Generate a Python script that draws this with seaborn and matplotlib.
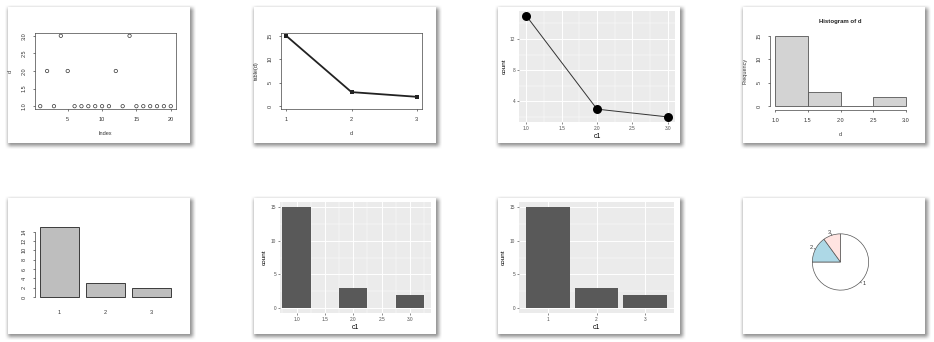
import numpy as np
import matplotlib
matplotlib.use("Agg")
import matplotlib.pyplot as plt
import seaborn as sns

# ---- data -------------------------------------------------------------
d_values = [1, 2, 1, 3, 2, 1, 1, 1, 1, 1, 1, 2, 1, 3, 1, 1, 1, 1, 1, 1]
d_index = list(range(1, len(d_values) + 1))
levels = [1, 2, 3]
level_labels = ["1", "2", "3"]
level_counts = [15, 3, 2]
hist_edges = [1.0, 1.5, 2.0, 2.5, 3.0]
hist_freq = [15, 3, 0, 2]
pie_colors = ["white", "lightblue", "mistyrose"]

plt.rcParams["font.family"] = ["Liberation Sans", "DejaVu Sans"]

W, H = 934, 342
CARD_W, CARD_H = 182, 136
COL_X = [8, 254, 498, 743]
ROW_Y = [7, 198]

fig = plt.figure(figsize=(W / 100, H / 100), dpi=100)

# ---- card backgrounds with soft drop shadows ---------------------------
def box_blur(a, r):
    k = np.ones(2 * r + 1) / (2 * r + 1)
    a = np.apply_along_axis(lambda m: np.convolve(m, k, mode="same"), 0, a)
    a = np.apply_along_axis(lambda m: np.convolve(m, k, mode="same"), 1, a)
    return a

shadow = np.zeros((H, W))
for y in ROW_Y:
    for x in COL_X:
        shadow[y + 1:y + CARD_H + 3, x:x + CARD_W + 3] = 1.0
shadow = box_blur(box_blur(shadow, 2), 1)
canvas = 1.0 - 0.42 * shadow
for y in ROW_Y:
    for x in COL_X:
        canvas[y:y + CARD_H, x:x + CARD_W] = 1.0
bg = fig.add_axes([0, 0, 1, 1])
bg.imshow(np.dstack([canvas] * 3), extent=(0, W, H, 0), aspect="auto",
          interpolation="nearest")
bg.set_axis_off()


def panel(col, row, l, t, r, b):
    cx, cy = COL_X[col], ROW_Y[row]
    return fig.add_axes([(cx + l) / W, 1 - (cy + b) / H, (r - l) / W, (b - t) / H])


TXT = "#333333"
R_BOX = (27, 26, 168, 102)


def r_style(ax, box=True):
    ax.set_facecolor("none")
    for s in ax.spines.values():
        s.set_linewidth(0.5)
        s.set_color("#444444")
        s.set_visible(box)
    ax.tick_params(length=1.6, width=0.5, color="#444444", pad=4.2,
                   labelsize=4, labelcolor=TXT)
    ax.tick_params(axis="y", labelrotation=90)
    for lab in ax.get_yticklabels():
        lab.set_va("center")
    ax.grid(False)


def gg_style(ax, xmaj, xmin, ymaj, ymin):
    ax.set_facecolor("#EBEBEB")
    for s in ax.spines.values():
        s.set_visible(False)
    ax.set_xticks(xmaj)
    ax.set_xticks(xmin, minor=True)
    ax.set_yticks(ymaj)
    ax.set_yticks(ymin, minor=True)
    ax.set_axisbelow(True)
    ax.grid(which="major", color="white", linewidth=0.7)
    ax.grid(which="minor", color="white", linewidth=0.35)
    ax.tick_params(which="major", length=1.6, width=0.4, color="#333333",
                   labelsize=3.4, labelcolor="#4D4D4D", pad=1.2)
    ax.tick_params(which="minor", length=0)


# ---- 1: index plot of d ----------------------------------------------
ax1 = panel(0, 0, *R_BOX)
sns.scatterplot(x=d_index, y=d_values, ax=ax1, marker="o", s=6,
                facecolor="none", edgecolor="#333333", linewidth=0.5)
ax1.set_xlim(0.24, 20.76)
ax1.set_ylim(0.92, 3.08)
ax1.set_xticks([5, 10, 15, 20])
ax1.set_yticks([1.0, 1.5, 2.0, 2.5, 3.0])
ax1.set_yticklabels(["1.0", "1.5", "2.0", "2.5", "3.0"])
ax1.set_xlabel("Index", fontsize=4, color=TXT, labelpad=6.5)
ax1.set_ylabel("d", fontsize=4, color=TXT, labelpad=6.5)
r_style(ax1)

# ---- 2: table(d) as connected points -----------------------------------
ax2 = panel(1, 0, *R_BOX)
sns.lineplot(x=levels, y=level_counts, ax=ax2, color="#222222", linewidth=1.3,
             marker="s", markersize=2.2, markeredgewidth=0)
ax2.set_xlim(0.92, 3.08)
ax2.set_ylim(-0.6, 15.6)
ax2.set_xticks(levels)
ax2.set_yticks([0, 5, 10, 15])
ax2.set_xlabel("d", fontsize=4, color=TXT, labelpad=6.5)
ax2.set_ylabel("table(d)", fontsize=4, color=TXT, labelpad=6.5)
r_style(ax2)

# ---- 3: counts as points and line, grey panel --------------------------
ax3 = panel(2, 0, 21, 3.5, 177, 115)
sns.lineplot(x=levels, y=level_counts, ax=ax3, color="#333333", linewidth=0.7)
sns.scatterplot(x=levels, y=level_counts, ax=ax3, color="black", s=42,
                linewidth=0, zorder=3)
ax3.set_xlim(0.9, 3.1)
ax3.set_ylim(1.35, 15.65)
gg_style(ax3, [1.0, 1.5, 2.0, 2.5, 3.0], [1.25, 1.75, 2.25, 2.75],
         [4, 8, 12], [2, 6, 10, 14])
ax3.set_xticklabels(["1.0", "1.5", "2.0", "2.5", "3.0"])
ax3.set_xlabel("c1", fontsize=5, color="black", labelpad=1.5)
ax3.set_ylabel("count", fontsize=4.6, color="black", labelpad=2.5)

# ---- 4: histogram -------------------------------------------------------
ax4 = panel(3, 0, *R_BOX)
bin_centers = [(a + b) / 2 for a, b in zip(hist_edges[:-1], hist_edges[1:])]
sns.histplot(x=bin_centers, weights=hist_freq, bins=hist_edges, ax=ax4,
             color="#D3D3D3", alpha=1, edgecolor="#555555", linewidth=0.6)
ax4.set_xlim(0.92, 3.08)
ax4.set_ylim(-0.6, 15.6)
ax4.set_xticks(hist_edges)
ax4.set_xticklabels(["1.0", "1.5", "2.0", "2.5", "3.0"])
ax4.set_yticks([0, 5, 10, 15])
ax4.set_xlabel("d", fontsize=4, color=TXT, labelpad=6.5)
ax4.set_ylabel("Frequency", fontsize=4, color=TXT, labelpad=6.5)
ax4.set_title("Histogram of d", fontsize=4.3, fontweight="bold", color="#222222", pad=7)
r_style(ax4)
ax4.spines["top"].set_visible(False)
ax4.spines["right"].set_visible(False)
ax4.spines["left"].set_bounds(0, 15)
ax4.spines["bottom"].set_bounds(1, 3)
ax4.spines["bottom"].set_position(("outward", 1))

# ---- 5: bar plot of table(d) ------------------------------------------
ax5 = panel(0, 1, *R_BOX)
sns.barplot(x=level_labels, y=level_counts, ax=ax5, color="#BEBEBE",
            saturation=1, width=1 / 1.2, edgecolor="#222222", linewidth=0.6)
ax5.set_xlim(-0.53, 2.53)
ax5.set_ylim(-0.6, 15.6)
ax5.set_yticks(list(range(0, 15, 2)))
ax5.set_xlabel("")
ax5.set_ylabel("")
r_style(ax5, box=False)
ax5.spines["left"].set_visible(True)
ax5.spines["left"].set_bounds(0, 14)
ax5.tick_params(axis="x", length=0, pad=7)

# ---- 6: bars on a continuous axis --------------------------------------
ax6 = panel(1, 1, 26, 4, 177, 115)
sns.histplot(x=d_values, discrete=True, shrink=0.5, ax=ax6, color="#595959",
             alpha=1, linewidth=0)
ax6.set_xlim(0.708, 3.37)
ax6.set_ylim(-0.75, 15.75)
gg_style(ax6, [1.0, 1.5, 2.0, 2.5, 3.0], [0.75, 1.25, 1.75, 2.25, 2.75, 3.25],
         [0, 5, 10, 15], [2.5, 7.5, 12.5])
ax6.set_xticklabels(["1.0", "1.5", "2.0", "2.5", "3.0"])
ax6.set_xlabel("c1", fontsize=5, color="black", labelpad=1.5)
ax6.set_ylabel("count", fontsize=4.6, color="black", labelpad=2.5)

# ---- 7: bars on a discrete axis -----------------------------------------
ax7 = panel(2, 1, 21, 4, 176, 115)
sns.countplot(x=[str(v) for v in d_values], order=level_labels, ax=ax7,
              color="#595959", saturation=1, width=0.9, linewidth=0)
ax7.set_xlim(-0.6, 2.6)
ax7.set_ylim(-0.75, 15.75)
gg_style(ax7, [0, 1, 2], [], [0, 5, 10, 15], [2.5, 7.5, 12.5])
ax7.set_xticklabels(level_labels)
ax7.set_xlabel("c1", fontsize=5, color="black", labelpad=1.5)
ax7.set_ylabel("count", fontsize=4.6, color="black", labelpad=2.5)

# ---- 8: pie chart -------------------------------------------------------
ax8 = panel(3, 1, *R_BOX)
ax8.set_facecolor("none")
ax8.pie(level_counts, colors=pie_colors, labels=level_labels, startangle=90,
        counterclock=False, radius=0.8, labeldistance=1.1,
        wedgeprops=dict(edgecolor="#555555", linewidth=0.5),
        textprops=dict(fontsize=4, color=TXT))
total = sum(level_counts)
start = 90.0
for c in level_counts:
    mid = np.deg2rad(start - 360.0 * c / total / 2)
    ax8.plot([0.8 * np.cos(mid), 0.84 * np.cos(mid)],
             [0.8 * np.sin(mid), 0.84 * np.sin(mid)], color="#555555", lw=0.5)
    start -= 360.0 * c / total
ax8.set_aspect("equal", adjustable="datalim")
ax8.set_xlim(-1.08, 1.08)
ax8.set_ylim(-1.08, 1.08)
ax8.set_axis_off()

fig.savefig("out.png", dpi=100)
